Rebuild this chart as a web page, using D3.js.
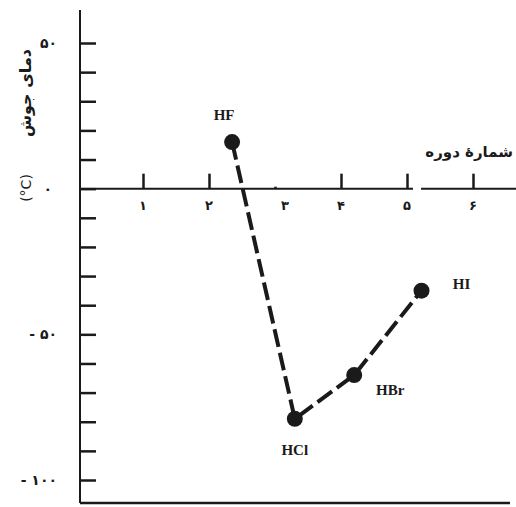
<!DOCTYPE html>
<html>
<head>
<meta charset="utf-8">
<script src="https://cdn.jsdelivr.net/npm/d3@7"></script>
<style>
  body { margin: 0; background: #fff; }
  svg { display: block; }
</style>
</head>
<body>
<script>
// boiling points of hydrogen halides
var compounds = ["HF", "HCl", "HBr", "HI"];
var periodPos = [2.35, 3.3, 4.2, 5.22];   // where the dots sit along the period axis
var boiling = [16, -79, -64, -35];

var periodTicks = [1, 2, 3, 4, 5, 6];
var periodLabels = ["۱", "۲", "۳", "۴", "۵", "۶"];
var tempTicks = d3.range(-100, 51, 10);
var tempLabelVals = [50, 0, -50, -100];
var tempLabels = ["۵۰", "۰", "- ۵۰", "- ۱۰۰"];

var width = 516, height = 507;

var x = d3.scaleLinear().domain([1, 6]).range([143, 473]);
var y = d3.scaleLinear().domain([-100, 50]).range([480, 43]);
var axisX = 80;

var svg = d3.select("body").append("svg")
    .attr("width", width)
    .attr("height", height);

var ink = "#1a1a1a";

// y axis: long line, ticks pointing right
svg.append("line")
    .attr("x1", axisX).attr("x2", axisX)
    .attr("y1", 10).attr("y2", 503)
    .attr("stroke", ink).attr("stroke-width", 2);

var gy = svg.append("g")
    .attr("transform", "translate(" + axisX + ",0)")
    .call(d3.axisRight(y).tickValues(tempTicks).tickSize(16).tickFormat(""));
gy.select(".domain").remove();
gy.selectAll(".tick line").attr("stroke", ink).attr("stroke-width", 2.5);

// y tick labels (only every 50)
svg.append("g").selectAll("text")
    .data(tempLabelVals)
    .enter().append("text")
    .attr("x", function(d) { return d == 0 ? 52 : 57; })
    .attr("y", function(d) { return y(d) + 5; })
    .attr("text-anchor", "end")
    .attr("font-family", "DejaVu Sans")
    .attr("font-weight", "bold")
    .attr("font-size", 14)
    .attr("fill", ink)
    .text(function(d, i) { return tempLabels[i]; });

// y title, rotated: the persian words on top, the unit below
svg.append("text")
    .attr("transform", "translate(31,93) rotate(-90)")
    .attr("text-anchor", "middle")
    .attr("font-family", "DejaVu Sans")
    .attr("font-weight", "bold")
    .attr("font-size", 16)
    .attr("fill", ink)
    .text("دمای جوش");
svg.append("text")
    .attr("transform", "translate(31,188) rotate(-90)")
    .attr("text-anchor", "middle")
    .attr("font-family", "DejaVu Sans")
    .attr("font-size", 14)
    .attr("fill", ink)
    .text("(°C)");

// bottom frame line
svg.append("line")
    .attr("x1", axisX).attr("x2", 510)
    .attr("y1", 503).attr("y2", 503)
    .attr("stroke", ink).attr("stroke-width", 2.5);

// x axis at zero, with a small break after 5
var y0 = y(0);
svg.append("line")
    .attr("x1", axisX).attr("x2", 413)
    .attr("y1", y0).attr("y2", y0)
    .attr("stroke", ink).attr("stroke-width", 2);
svg.append("line")
    .attr("x1", 421).attr("x2", width)
    .attr("y1", y0).attr("y2", y0)
    .attr("stroke", ink).attr("stroke-width", 2);

var gx = svg.append("g")
    .attr("transform", "translate(0," + y0 + ")")
    .call(d3.axisTop(x).tickValues(periodTicks).tickSize(15).tickFormat(""));
gx.select(".domain").remove();
gx.selectAll(".tick line")
    .attr("stroke", ink).attr("stroke-width", 2.5)
    .attr("y2", function(d) { return d == 3 ? -2 : -15; });

svg.append("g").selectAll("text")
    .data(periodTicks)
    .enter().append("text")
    .attr("x", function(d) { return x(d) + (d == 3 ? 10 : 0); })
    .attr("y", y0 + 21)
    .attr("text-anchor", "middle")
    .attr("font-family", "DejaVu Sans")
    .attr("font-weight", "bold")
    .attr("font-size", 13)
    .attr("fill", ink)
    .text(function(d, i) { return periodLabels[i]; });

svg.append("text")
    .attr("x", 513)
    .attr("y", 157)
    .attr("text-anchor", "end")
    .attr("font-family", "DejaVu Sans")
    .attr("font-weight", "bold")
    .attr("font-size", 15)
    .attr("fill", ink)
    .text("شمارهٔ دوره");

// dashed line through the points
var pts = compounds.map(function(c, i) {
    return {name: c, px: periodPos[i], bp: boiling[i]};
});

svg.append("path")
    .datum(pts)
    .attr("fill", "none")
    .attr("stroke", ink)
    .attr("stroke-width", 4)
    .attr("stroke-dasharray", "18,6")
    .attr("d", d3.line()
        .x(function(d) { return x(d.px); })
        .y(function(d) { return y(d.bp); }));

svg.append("g").selectAll("circle")
    .data(pts)
    .enter().append("circle")
    .attr("cx", function(d) { return x(d.px); })
    .attr("cy", function(d) { return y(d.bp); })
    .attr("r", 8)
    .attr("fill", ink);

// labels next to each dot
var labelOff = {HF: [-8, -22], HCl: [0, 36], HBr: [36, 20], HI: [40, -2]};
svg.append("g").selectAll("text")
    .data(pts)
    .enter().append("text")
    .attr("x", function(d) { return x(d.px) + labelOff[d.name][0]; })
    .attr("y", function(d) { return y(d.bp) + labelOff[d.name][1]; })
    .attr("text-anchor", "middle")
    .attr("font-family", "Liberation Serif")
    .attr("font-weight", "bold")
    .attr("font-size", 15)
    .attr("fill", ink)
    .text(function(d) { return d.name; });
</script>
</body>
</html>
